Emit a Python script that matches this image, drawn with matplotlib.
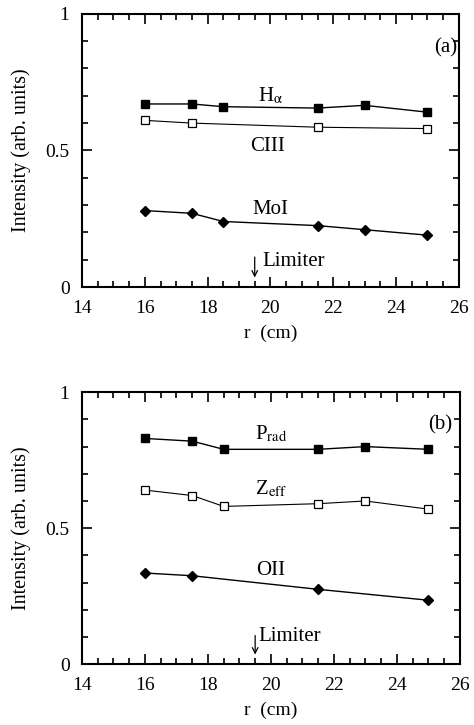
import numpy as np
import matplotlib.pyplot as plt
from matplotlib.ticker import MultipleLocator

plt.rcParams['font.family'] = ['Liberation Serif', 'DejaVu Serif']
plt.rcParams['mathtext.fontset'] = 'stix'

# panel (a)
r_a = [16, 17.5, 18.5, 21.5, 23, 25]
h_alpha = [0.67, 0.67, 0.66, 0.655, 0.665, 0.64]
r_ciii = [16, 17.5, 21.5, 25]
c_iii = [0.61, 0.60, 0.585, 0.58]
mo_i = [0.28, 0.27, 0.24, 0.225, 0.21, 0.19]

# panel (b)
r_b = [16, 17.5, 18.5, 21.5, 23, 25]
p_rad = [0.83, 0.82, 0.79, 0.79, 0.80, 0.79]
z_eff = [0.64, 0.62, 0.58, 0.59, 0.60, 0.57]
r_oii = [16, 17.5, 21.5, 25]
o_ii = [0.335, 0.325, 0.275, 0.235]

limiter_r = 19.5


def style_axes(ax):
    ax.set_xlim(14, 26)
    ax.set_ylim(0, 1)
    ax.xaxis.set_major_locator(MultipleLocator(2))
    ax.xaxis.set_minor_locator(MultipleLocator(0.5))
    ax.yaxis.set_minor_locator(MultipleLocator(0.1))
    ax.set_yticks([0, 0.5, 1])
    ax.set_yticklabels(['0', '0.5', '1'])
    ax.tick_params(which='both', direction='in', top=True, right=True,
                   width=1.2, labelsize=14)
    ax.tick_params(which='major', length=7)
    ax.tick_params(which='minor', length=4)
    ax.tick_params(axis='x', which='major', pad=9)
    ax.tick_params(axis='y', which='major', pad=9)
    for s in ax.spines.values():
        s.set_linewidth(1.5)
    ax.set_xlabel('r  (cm)', fontsize=14, labelpad=6)
    ax.set_ylabel('Intensity (arb. units)', fontsize=14.5, labelpad=10)


def limiter(ax, y0, y1, ty, tx):
    ax.annotate('', xy=(limiter_r, y1), xytext=(limiter_r, y0),
                arrowprops=dict(arrowstyle='->', color='black', lw=0.9,
                                shrinkA=0, shrinkB=0))
    ax.text(tx, ty, 'Limiter', fontsize=15, va='center', ha='left')


fig = plt.figure(figsize=(4.74, 7.25), dpi=100)

ax1 = fig.add_axes([0.173, 0.604, 0.795, 0.377])
ax1.plot(r_a, h_alpha, '-s', color='black', lw=1.0, ms=6, mfc='black')
ax1.plot(r_ciii, c_iii, '-s', color='black', lw=0.8, ms=5.5, mfc='white', mew=0.9)
ax1.plot(r_a, mo_i, '-D', color='black', lw=1.0, ms=4.8, mfc='black')
ax1.text(20.0, 0.70, r'H$_{\mathrm{α}}$', fontsize=15, ha='center', va='center')
ax1.text(19.9, 0.515, 'CIII', fontsize=15, ha='center', va='center')
ax1.text(20.0, 0.285, 'MoI', fontsize=15, ha='center', va='center')
ax1.text(25.2, 0.875, '(a)', fontsize=15, ha='left', va='center')
limiter(ax1, 0.11, 0.035, 0.095, 19.75)
style_axes(ax1)

ax2 = fig.add_axes([0.173, 0.084, 0.797, 0.375])
ax2.plot(r_b, p_rad, '-s', color='black', lw=1.0, ms=6, mfc='black')
ax2.plot(r_b, z_eff, '-s', color='black', lw=0.8, ms=5.5, mfc='white', mew=0.9)
ax2.plot(r_oii, o_ii, '-D', color='black', lw=1.0, ms=4.8, mfc='black')
ax2.text(20.0, 0.845, r'P$_{\mathrm{rad}}$', fontsize=15, ha='center', va='center')
ax2.text(20.0, 0.645, r'Z$_{\mathrm{eff}}$', fontsize=15, ha='center', va='center')
ax2.text(20.0, 0.345, 'OII', fontsize=15, ha='center', va='center')
ax2.text(25.0, 0.88, '(b)', fontsize=15, ha='left', va='center')
limiter(ax2, 0.105, 0.035, 0.10, 19.6)
style_axes(ax2)

fig.savefig('out.png', dpi=100)
